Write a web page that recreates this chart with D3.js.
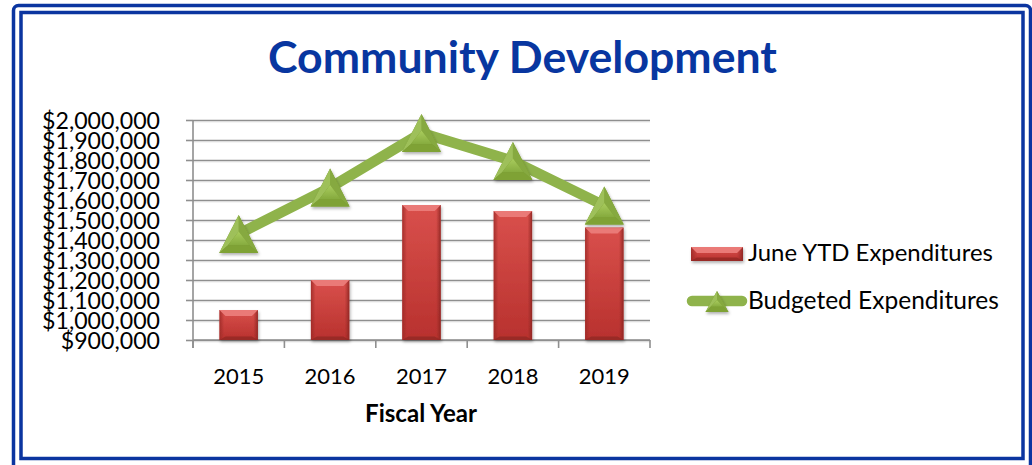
<!DOCTYPE html>
<html>
<head>
<meta charset="utf-8">
<script src="https://cdn.jsdelivr.net/npm/d3@7"></script>
<style>
  html, body { margin: 0; padding: 0; background: #fff; }
  svg { display: block; }
  text { font-family: Lato, "Open Sans", sans-serif; }
</style>
</head>
<body>
<svg id="chart" width="1032" height="465"></svg>
<script>
// Fiscal years and the two series
const years = ["2015", "2016", "2017", "2018", "2019"];
const ytdExpenditures = [1050000, 1200000, 1575000, 1545000, 1462000];
const budgetedExpenditures = [1430000, 1662000, 1935000, 1795000, 1572000];
const yTickValues = [900000, 1000000, 1100000, 1200000, 1300000, 1400000,
                     1500000, 1600000, 1700000, 1800000, 1900000, 2000000];
const seriesNames = ["June YTD Expenditures", "Budgeted Expenditures"];

const svg = d3.select("#chart");
const defs = svg.append("defs");

// Fit a text element's font size so it spans the given width
function fitWidth(sel, width) {
  const fs = parseFloat(sel.attr("font-size"));
  const w = sel.node().getComputedTextLength();
  if (w > 0) sel.attr("font-size", (fs * width / w).toFixed(2));
  return sel;
}

// ---- gradients and filters ----
const barGrad = defs.append("linearGradient").attr("id", "barBody")
  .attr("x1", 0).attr("y1", 0).attr("x2", 0).attr("y2", 1);
barGrad.append("stop").attr("offset", 0).attr("stop-color", "#d9504c");
barGrad.append("stop").attr("offset", 1).attr("stop-color", "#b8312e");

const barSide = defs.append("linearGradient").attr("id", "barSide")
  .attr("x1", 0).attr("y1", 0).attr("x2", 1).attr("y2", 0);
barSide.append("stop").attr("offset", 0).attr("stop-color", "#9c2a27").attr("stop-opacity", 0.85);
barSide.append("stop").attr("offset", 0.12).attr("stop-color", "#9c2a27").attr("stop-opacity", 0);
barSide.append("stop").attr("offset", 0.88).attr("stop-color", "#9c2a27").attr("stop-opacity", 0);
barSide.append("stop").attr("offset", 1).attr("stop-color", "#8a2522").attr("stop-opacity", 0.9);

const triGrad = defs.append("linearGradient").attr("id", "triFace")
  .attr("x1", 0).attr("y1", 0).attr("x2", 0).attr("y2", 1);
triGrad.append("stop").attr("offset", 0).attr("stop-color", "#a9cc5e");
triGrad.append("stop").attr("offset", 1).attr("stop-color", "#86ab3e");

const shadow = defs.append("filter").attr("id", "soft")
  .attr("x", "-30%").attr("y", "-30%").attr("width", "160%").attr("height", "160%");
shadow.append("feDropShadow").attr("dx", 1).attr("dy", 2).attr("stdDeviation", 1.6)
  .attr("flood-color", "#000").attr("flood-opacity", 0.3);

// ---- double blue frame ----
svg.append("rect").attr("x", 13.5).attr("y", 5.5).attr("width", 1017).attr("height", 470)
  .attr("rx", 5).attr("fill", "none").attr("stroke", "#0b35a0").attr("stroke-width", 3.5);
svg.append("rect").attr("x", 21).attr("y", 12.5).attr("width", 1002).attr("height", 446)
  .attr("fill", "none").attr("stroke", "#0b35a0").attr("stroke-width", 3.5);

// ---- title ----
const title = svg.append("text").attr("x", 522.5).attr("y", 73)
  .attr("text-anchor", "middle").attr("font-weight", 700).attr("font-size", 42)
  .attr("fill", "#0836a0").text("Community Development");
fitWidth(title, 509);

// ---- scales ----
const plot = { left: 193, right: 650, top: 120, bottom: 340 };
const y = d3.scaleLinear().domain([900000, 2000000]).range([plot.bottom, plot.top]);
const xCat = d3.scaleBand().domain(years).range([plot.left, plot.right]).padding(0);
const xBar = d3.scaleBand().domain(years).range([plot.left, plot.right])
  .paddingInner(0.58).paddingOuter(0.29);

// ---- gridlines ----
const grid = svg.append("g").attr("transform", `translate(${plot.left},0)`)
  .call(d3.axisLeft(y).tickValues(yTickValues).tickSize(-(plot.right - plot.left)).tickFormat(""));
grid.select(".domain").remove();
grid.selectAll(".tick line").attr("stroke", "#8f8f8f").attr("stroke-width", 1.6);
// faint lower edge under each gridline
svg.append("g").selectAll("line").data(yTickValues).join("line")
  .attr("x1", plot.left).attr("x2", plot.right)
  .attr("y1", d => y(d) + 1.8).attr("y2", d => y(d) + 1.8)
  .attr("stroke", "#dcdcdc").attr("stroke-width", 1);

// ---- y axis ----
const yAxis = svg.append("g").attr("transform", `translate(${plot.left},0)`)
  .call(d3.axisLeft(y).tickValues(yTickValues).tickSize(7).tickPadding(26)
    .tickFormat(d3.format("$,")));
yAxis.select(".domain").attr("stroke", "#8f8f8f").attr("stroke-width", 1.6)
  .attr("d", `M0,${plot.top}V${plot.bottom + 8}`);
yAxis.selectAll(".tick line").attr("stroke", "#8f8f8f").attr("stroke-width", 1.6);
const yLabels = yAxis.selectAll(".tick text").attr("fill", "#000").attr("font-size", 24)
  .attr("font-family", "Lato, sans-serif").attr("dy", "0.36em");
// size all y labels from the widest one
const topLabel = yAxis.selectAll(".tick text").filter(d => d === 2000000);
fitWidth(topLabel, 118);
yLabels.attr("font-size", topLabel.attr("font-size"));

// ---- x axis ----
const xAxis = svg.append("g").attr("transform", `translate(0,${plot.bottom})`)
  .call(d3.axisBottom(xCat).tickSize(0).tickPadding(0));
xAxis.select(".domain").attr("stroke", "#8f8f8f").attr("stroke-width", 1.6)
  .attr("d", `M${plot.left},0H${plot.right}`);
xAxis.selectAll(".tick text").attr("fill", "#000").attr("font-size", 24)
  .attr("font-family", "Lato, sans-serif").attr("y", 43.5).attr("dy", 0)
  .each(function () { fitWidth(d3.select(this), 51); });
// category boundary ticks
const bounds = years.map(d => xCat(d)).concat([xCat(years[years.length - 1]) + xCat.step()]);
xAxis.append("g").selectAll("line").data(bounds).join("line")
  .attr("x1", d => d).attr("x2", d => d).attr("y1", 0).attr("y2", 8)
  .attr("stroke", "#8f8f8f").attr("stroke-width", 1.6);

const xTitle = svg.append("text").attr("x", 421).attr("y", 421.5)
  .attr("text-anchor", "middle").attr("font-weight", 700).attr("font-size", 21)
  .attr("fill", "#000").text("Fiscal Year");
fitWidth(xTitle, 112);

// ---- bars ----
function bevelBar(g, x, yTop, w, h) {
  const b = g.append("g").attr("filter", "url(#soft)");
  b.append("rect").attr("x", x).attr("y", yTop).attr("width", w).attr("height", h)
    .attr("fill", "url(#barBody)");
  b.append("rect").attr("x", x).attr("y", yTop).attr("width", w).attr("height", h)
    .attr("fill", "url(#barSide)");
  const bev = Math.min(6, h / 2);
  b.append("path")
    .attr("d", `M${x},${yTop}H${x + w}L${x + w - bev},${yTop + bev}H${x + bev}Z`)
    .attr("fill", "#ea7a77");
  b.append("path")
    .attr("d", `M${x},${yTop + h}H${x + w}L${x + w - bev},${yTop + h - bev * 0.6}H${x + bev}Z`)
    .attr("fill", "#8c2623").attr("opacity", 0.7);
}
const barLayer = svg.append("g");
years.forEach((yr, i) => {
  const top = y(ytdExpenditures[i]);
  bevelBar(barLayer, xBar(yr), top, xBar.bandwidth(), plot.bottom - top);
});

// ---- budget line with triangle markers ----
const cx = d => xCat(d) + xCat.step() / 2;
const line = d3.line().x((d, i) => cx(years[i])).y(d => y(d));
svg.append("path").datum(budgetedExpenditures).attr("d", line)
  .attr("fill", "none").attr("stroke", "#8fb34b").attr("stroke-width", 10.5)
  .attr("stroke-linejoin", "miter");

function triangle(g, x, yc, w, h) {
  const t = g.append("g").attr("filter", "url(#soft)");
  const top = yc - h / 2, bot = yc + h / 2;
  t.append("path").attr("d", `M${x},${top}L${x + w / 2},${bot}H${x - w / 2}Z`)
    .attr("fill", "#77992f");
  const iw = w * 0.55, ih = h * 0.5;
  const ic = yc + h * 0.1;
  t.append("path").attr("d", `M${x},${top}L${x + w / 2},${bot}L${x + iw / 2},${ic + ih / 2 - 2}L${x},${ic - ih / 3}Z`)
    .attr("fill", "#86a93f");
  t.append("path").attr("d", `M${x},${top}L${x},${ic - ih / 3}L${x - iw / 2},${ic + ih / 2 - 2}L${x - w / 2},${bot}Z`)
    .attr("fill", "#9ec05a");
  t.append("path").attr("d", `M${x},${ic - ih / 3}L${x + iw / 2},${ic + ih / 2 - 2}H${x - iw / 2}Z`)
    .attr("fill", "url(#triFace)");
  t.append("path").attr("d", `M${x - iw / 2},${ic + ih / 2 - 2}H${x + iw / 2}L${x + w / 2},${bot}H${x - w / 2}Z`)
    .attr("fill", "#7fa236");
}
const markerLayer = svg.append("g");
budgetedExpenditures.forEach((v, i) => triangle(markerLayer, cx(years[i]), y(v), 39, 38));

// ---- legend ----
const legend = svg.append("g");
bevelBar(legend, 691, 247, 52, 14);
legend.append("text").attr("x", 748).attr("y", 261).attr("font-size", 22)
  .attr("fill", "#000").text(seriesNames[0])
  .call(s => fitWidth(s, 245));
legend.append("line").attr("x1", 692).attr("x2", 742).attr("y1", 301).attr("y2", 301)
  .attr("stroke", "#8fb34b").attr("stroke-width", 10.5).attr("stroke-linecap", "round");
triangle(legend, 717, 301.5, 23, 21);
legend.append("text").attr("x", 748).attr("y", 308.5).attr("font-size", 22)
  .attr("fill", "#000").text(seriesNames[1])
  .call(s => fitWidth(s, 251));
</script>
</body>
</html>
